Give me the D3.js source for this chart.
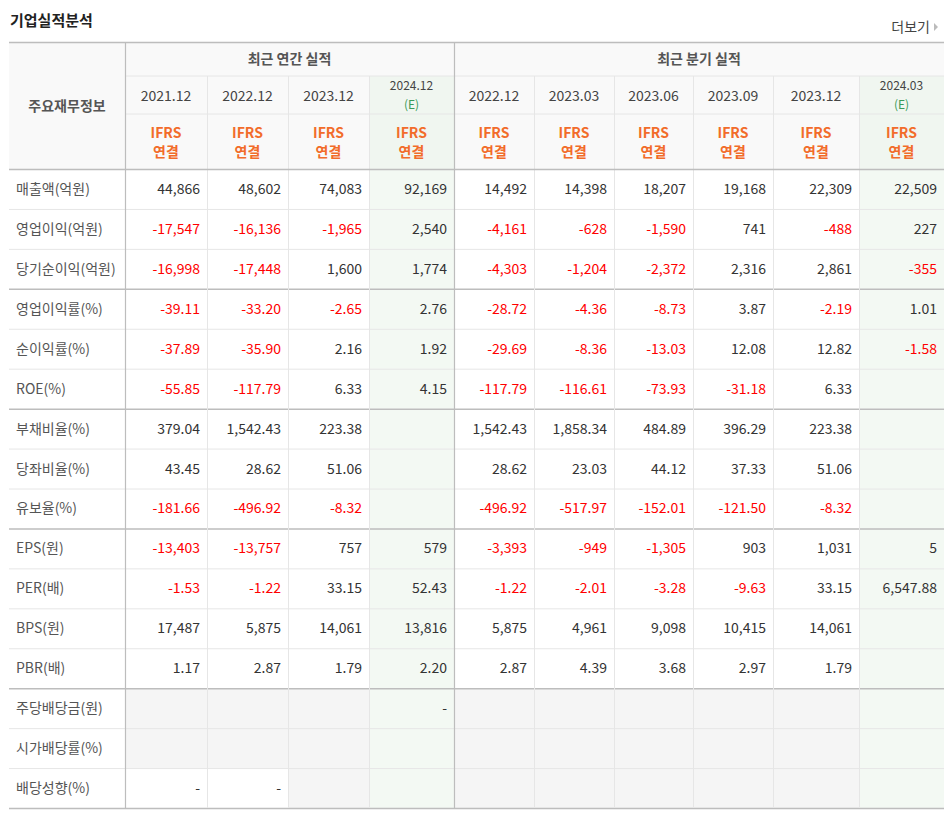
<!DOCTYPE html>
<html><head><meta charset="utf-8">
<script src="https://cdn.jsdelivr.net/npm/d3@7"></script>
<style>body{margin:0;background:#fff}text{font-family:"Noto Sans CJK KR","Noto Sans",sans-serif}</style>
</head><body><svg id="c" width="952" height="814"></svg>
<script>
const title = "기업실적분석";
const moreLabel = "더보기";
const groupLabels = ["최근 연간 실적", "최근 분기 실적"];
const periods = ["2021.12","2022.12","2023.12","2024.12","2022.12","2023.03","2023.06","2023.09","2023.12","2024.03"];
const estimate = [false,false,false,true,false,false,false,false,false,true];
const rowLabels = ["매출액(억원)","영업이익(억원)","당기순이익(억원)","영업이익률(%)","순이익률(%)","ROE(%)","부채비율(%)","당좌비율(%)","유보율(%)","EPS(원)","PER(배)","BPS(원)","PBR(배)","주당배당금(원)","시가배당률(%)","배당성향(%)"];
const r01 = ["44,866","48,602","74,083","92,169","14,492","14,398","18,207","19,168","22,309","22,509"];
const r02 = ["-17,547","-16,136","-1,965","2,540","-4,161","-628","-1,590","741","-488","227"];
const r03 = ["-16,998","-17,448","1,600","1,774","-4,303","-1,204","-2,372","2,316","2,861","-355"];
const r04 = ["-39.11","-33.20","-2.65","2.76","-28.72","-4.36","-8.73","3.87","-2.19","1.01"];
const r05 = ["-37.89","-35.90","2.16","1.92","-29.69","-8.36","-13.03","12.08","12.82","-1.58"];
const r06 = ["-55.85","-117.79","6.33","4.15","-117.79","-116.61","-73.93","-31.18","6.33",""];
const r07 = ["379.04","1,542.43","223.38","","1,542.43","1,858.34","484.89","396.29","223.38",""];
const r08 = ["43.45","28.62","51.06","","28.62","23.03","44.12","37.33","51.06",""];
const r09 = ["-181.66","-496.92","-8.32","","-496.92","-517.97","-152.01","-121.50","-8.32",""];
const r10 = ["-13,403","-13,757","757","579","-3,393","-949","-1,305","903","1,031","5"];
const r11 = ["-1.53","-1.22","33.15","52.43","-1.22","-2.01","-3.28","-9.63","33.15","6,547.88"];
const r12 = ["17,487","5,875","14,061","13,816","5,875","4,961","9,098","10,415","14,061",""];
const r13 = ["1.17","2.87","1.79","2.20","2.87","4.39","3.68","2.97","1.79",""];
const r14 = [null,null,null,"-",null,null,null,null,null,null];
const r15 = [null,null,null,null,null,null,null,null,null,null];
const r16 = ["-","-",null,null,null,null,null,null,null,null];
const values = [r01,r02,r03,r04,r05,r06,r07,r08,r09,r10,r11,r12,r13,r14,r15,r16];
const groupBreaks = [2,5,8,12];

const svg = d3.select("#c");
const colEdges = [9,125,207,288,369,454,534,614,693,773,859,944];
const x0 = 9, x1 = 944;
const y = d3.scaleBand().domain(d3.range(16)).range([169,808]).padding(0);

svg.append("text").attr("x",10).attr("y",26).attr("font-size",15).attr("font-weight","bold").attr("fill","#222").text(title);
svg.append("text").attr("x",930).attr("y",32).attr("font-size",14).attr("text-anchor","end").attr("fill","#444").text(moreLabel);
svg.append("path").attr("d","M934,23 L938,27 L934,31 Z").attr("fill","#bbb");

svg.append("rect").attr("x",x0).attr("y",42).attr("width",x1-x0).attr("height",127).attr("fill","#f9f9f9");
values.forEach((row,ri)=>{
  row.forEach((v,ci)=>{
    let fill = "#fff";
    if (estimate[ci]) fill = "#f3f9f3";
    else if (ri>=13 && v===null) fill = "#f5f5f5";
    svg.append("rect").attr("x",colEdges[ci+1]).attr("y",y(ri)).attr("width",colEdges[ci+2]-colEdges[ci+1]).attr("height",y.bandwidth()).attr("fill",fill);
    if (v) svg.append("text").attr("x",colEdges[ci+2]-7).attr("y",y(ri)+y.bandwidth()/2+5)
      .attr("text-anchor","end").attr("font-size",14)
      .attr("fill", v.startsWith("-")&&v.length>1 ? "#f00" : "#333").text(v);
  });
  svg.append("text").attr("x",16).attr("y",y(ri)+y.bandwidth()/2+5).attr("font-size",14).attr("fill","#555").text(rowLabels[ri]);
});
periods.forEach((p,ci)=>{
  const cx0=colEdges[ci+1], cx1=colEdges[ci+2], cx=(cx0+cx1)/2;
  if (estimate[ci]) {
    svg.append("rect").attr("x",cx0).attr("y",76).attr("width",cx1-cx0).attr("height",93).attr("fill","#f0f6f0");
    svg.append("text").attr("x",cx).attr("y",90).attr("text-anchor","middle").attr("font-size",12).attr("fill","#444").text(p);
    svg.append("text").attr("x",cx).attr("y",109).attr("text-anchor","middle").attr("font-size",12).attr("fill","#3a9a5a").text("(E)");
  } else svg.append("text").attr("x",cx).attr("y",101).attr("text-anchor","middle").attr("font-size",14).attr("fill","#444").text(p);
  svg.append("text").attr("x",cx).attr("y",138).attr("text-anchor","middle").attr("font-size",14).attr("font-weight","bold").attr("fill","#f26c2a").text("IFRS");
  svg.append("text").attr("x",cx).attr("y",157).attr("text-anchor","middle").attr("font-size",14).attr("font-weight","bold").attr("fill","#f26c2a").text("연결");
});
svg.append("text").attr("x",67).attr("y",111).attr("text-anchor","middle").attr("font-size",14).attr("font-weight","bold").attr("fill","#555").text("주요재무정보");
svg.append("text").attr("x",(125+454)/2).attr("y",64).attr("text-anchor","middle").attr("font-size",14).attr("font-weight","bold").attr("fill","#555").text(groupLabels[0]);
svg.append("text").attr("x",(454+944)/2).attr("y",64).attr("text-anchor","middle").attr("font-size",14).attr("font-weight","bold").attr("fill","#555").text(groupLabels[1]);

const light="#e6e6e6", dark="#bdbdbd";
svg.append("line").attr("x1",125).attr("x2",x1).attr("y1",76).attr("y2",76).attr("stroke",light);
svg.append("line").attr("x1",125).attr("x2",x1).attr("y1",114).attr("y2",114).attr("stroke",light);
d3.range(16).forEach(ri=>{
  const yy=y(ri)+y.bandwidth();
  const isDark = groupBreaks.includes(ri) || ri===15;
  svg.append("line").attr("x1",x0).attr("x2",x1).attr("y1",yy+0.5).attr("y2",yy+0.5).attr("stroke",isDark?dark:light).attr("stroke-width",isDark?1.5:1);
});
colEdges.slice(2,-1).forEach(cx=>{
  if (cx===454) return;
  svg.append("line").attr("x1",cx+0.5).attr("x2",cx+0.5).attr("y1",76).attr("y2",808).attr("stroke",light);
});
[125,454].forEach(cx=>svg.append("line").attr("x1",cx+0.5).attr("x2",cx+0.5).attr("y1",42).attr("y2",808).attr("stroke",dark).attr("stroke-width",1.2));
svg.append("line").attr("x1",x0).attr("x2",x1).attr("y1",42.5).attr("y2",42.5).attr("stroke",dark).attr("stroke-width",1.5);
svg.append("line").attr("x1",x0).attr("x2",x1).attr("y1",169.5).attr("y2",169.5).attr("stroke",dark).attr("stroke-width",1.5);
</script></body></html>
